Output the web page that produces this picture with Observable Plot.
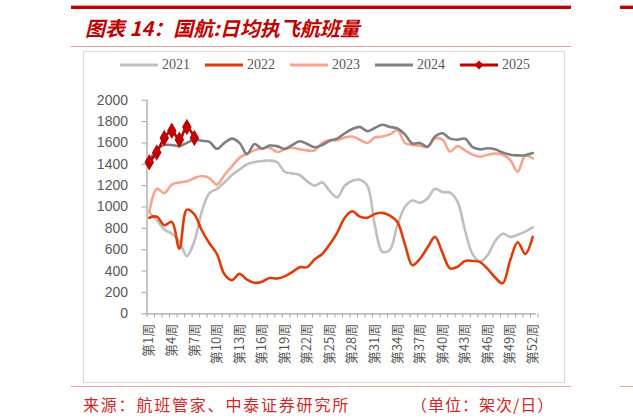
<!DOCTYPE html>
<html><head><meta charset="utf-8">
<script src="https://cdn.jsdelivr.net/npm/d3@7"></script>
<script src="https://cdn.jsdelivr.net/npm/@observablehq/plot@0.6"></script>
<style>
html,body{margin:0;padding:0;background:#fff;}
#page{position:relative;width:633px;height:419px;overflow:hidden;font-family:"Noto Sans CJK SC",sans-serif;}
.abs{position:absolute;}
.leg{position:absolute;top:56px;height:18px;font-family:"Liberation Serif",serif;font-size:14px;color:#595959;line-height:18px;}
</style></head><body><div id="page">
<div class="abs" style="left:71px;top:5px;width:500px;height:1px;background:#EBA5A5"></div>
<div class="abs" style="left:71px;top:6px;width:500px;height:2.5px;background:#C00000"></div>
<div class="abs" style="left:620px;top:5px;width:13px;height:1px;background:#EBA5A5"></div>
<div class="abs" style="left:620px;top:6px;width:13px;height:2.5px;background:#C00000"></div>
<div class="abs" id="title" style="left:85px;top:17px;font-size:20px;line-height:22px;font-weight:bold;font-style:italic;color:#C00000;white-space:nowrap;">图表 14：国航:日均执飞航班量</div>
<div class="abs" style="left:71px;top:45.5px;width:500px;height:1.5px;background:#E7A0A0"></div>
<div class="abs" style="left:82.5px;top:50.5px;width:480px;height:330px;border:1px solid #D9D9D9;"></div>
<div class="abs" id="chart" style="left:83px;top:51px;width:480px;height:330px;"></div>
<div id="legend"></div>
<div class="abs" style="left:71px;top:385.5px;width:500px;height:1.5px;background:#E7A0A0"></div>
<div class="abs" style="left:620px;top:385.5px;width:13px;height:1.5px;background:#E7A0A0"></div>
<div class="abs" style="left:83px;top:394px;font-size:16px;line-height:20px;letter-spacing:1.8px;color:#CC2A2A;white-space:nowrap;">来源：航班管家、中泰证券研究所</div>
<div class="abs" style="left:411px;top:394px;font-size:16px;line-height:20px;letter-spacing:1px;color:#CC2A2A;white-space:nowrap;">（单位：架次/日）</div>
</div>
<script>
const years = ["2021", "2022", "2023", "2024", "2025"];
const colors = ["#BFBFBF", "#DE3C0A", "#F7A491", "#7F7F7F", "#C00000"];
const v2021 = [950,880,790,750,680,540,680,960,1130,1170,1230,1300,1350,1400,1420,1430,1435,1420,1330,1315,1300,1240,1200,1230,1150,1090,1200,1245,1255,1200,830,580,600,830,1000,1060,1040,1080,1170,1140,1135,1050,780,560,490,550,680,750,720,740,770,810];
const v2022 = [900,910,830,860,610,975,930,780,660,560,370,315,375,320,290,300,335,330,350,390,435,437,510,560,650,760,900,960,910,900,935,945,920,860,650,455,515,620,720,570,425,440,495,495,484,420,340,285,500,670,560,720];
const v2023 = [950,1170,1130,1210,1230,1240,1270,1290,1270,1210,1300,1380,1460,1500,1530,1550,1555,1515,1540,1555,1540,1530,1530,1600,1625,1625,1650,1660,1630,1600,1650,1660,1680,1720,1600,1580,1575,1560,1640,1630,1520,1570,1530,1490,1470,1490,1500,1490,1440,1330,1480,1455];
const v2024 = [1430,1540,1580,1580,1570,1600,1630,1620,1610,1545,1600,1640,1600,1495,1590,1545,1575,1570,1545,1580,1615,1590,1560,1580,1620,1640,1690,1730,1750,1710,1740,1770,1750,1735,1680,1595,1600,1565,1660,1690,1640,1630,1640,1560,1540,1550,1540,1510,1490,1483,1485,1505];
const v2025 = [1420,1510,1645,1715,1630,1750,1645];
const yTicks = [0,200,400,600,800,1000,1200,1400,1600,1800,2000];
const labelWeeks = [1,4,7,10,13,16,19,22,25,28,31,34,37,40,43,46,49,52];
const weekLabel = w => `第${w}周`;

const seriesValues = [v2021, v2022, v2023, v2024, v2025];
const rows = years.map((y, k) => seriesValues[k].map((v, i) => ({year: y, week: i + 1, value: v})));
const tickBounds = d3.range(0, 53).map(k => k + 0.7);

const lineMarks = rows.map((r, k) => Plot.line(r, {x: "week", y: "value", stroke: colors[k], strokeWidth: 2.6, curve: "catmull-rom"}));

const chart = Plot.plot({
  width: 480, height: 330,
  marginLeft: 63.5, marginRight: 27, marginTop: 48.7, marginBottom: 67.7,
  style: {fontFamily: "Noto Sans CJK SC, sans-serif", background: "transparent", color: "#595959"},
  x: {domain: [0.7, 52.5]},
  y: {domain: [0, 2000]},
  marks: [
    Plot.axisY({ticks: yTicks, tickSize: 5, tickPadding: 14, tickFormat: d => String(d), fontSize: 14, fontFamily: "Liberation Sans, Arial, sans-serif", stroke: "#A6A6A6", fill: "#595959", label: null}),
    Plot.axisX({ticks: tickBounds, tickSize: 4, tickFormat: () => "", stroke: "#A6A6A6", label: null}),
    Plot.axisX({ticks: labelWeeks, tickSize: 0, tickPadding: 10, tickRotate: -90, tickFormat: weekLabel, fontSize: 13, fill: "#595959", label: null}),
    Plot.ruleX([0.7], {stroke: "#A6A6A6", strokeWidth: 1.3}),
    Plot.ruleY([0], {stroke: "#A6A6A6", strokeWidth: 1.3}),
    ...lineMarks,
    Plot.dot(rows[4], {x: "week", y: "value", symbol: "diamond", r: 5, fill: colors[4], stroke: "none"})
  ]
});
document.getElementById("chart").appendChild(chart);

// legend
const legX = [120, 205, 290, 375, 460];
const leg = document.getElementById("legend");
years.forEach((y, k) => {
  const d = document.createElement("div");
  d.className = "leg";
  d.style.left = legX[k] + "px";
  const marker = k === 4 ? `<path d="M19 4.5 L23.5 9 L19 13.5 L14.5 9 Z" fill="${colors[k]}"/>` : "";
  d.innerHTML = `<svg width="39" height="18" style="vertical-align:top"><line x1="0" x2="38" y1="9" y2="9" stroke="${colors[k]}" stroke-width="3"/>${marker}</svg><span style="margin-left:3px">${y}</span>`;
  leg.appendChild(d);
});
</script>
</body></html>
